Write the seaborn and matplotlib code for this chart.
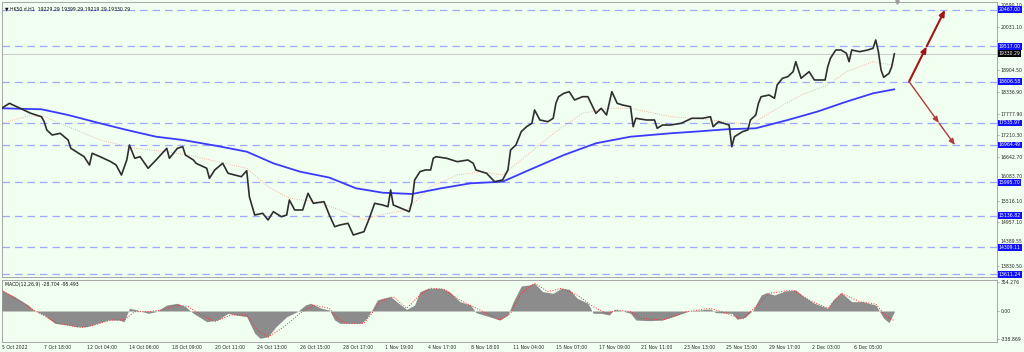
import numpy as np
import pandas as pd
import matplotlib
matplotlib.use("Agg")
import matplotlib.pyplot as plt
import seaborn as sns

# ---------------- data ----------------
title_text = "\u25BC HK50.d,H1  19229.29 19399.29 19219.29 19330.29"
macd_text = "MACD(12,26,9) -28.704 -95.493"

price_bar = [0, 3, 7, 11, 15, 16, 17, 19, 22, 25, 26, 28, 31, 33, 34, 37, 41, 43, 45, 47,
             48, 50, 52, 55, 58, 62, 63, 66, 68, 69, 72, 73, 77, 78, 80, 83, 85, 90, 92, 93,
             95, 98, 100, 102, 105, 107, 108, 110, 113, 115, 117, 121, 123, 125, 127, 130, 132, 136, 138, 140,
             143, 145, 146, 147, 150, 153, 154, 155, 157, 159, 161, 162, 163, 167, 171, 175, 177, 178, 182, 185,
             188, 190, 191, 193, 195, 197, 199, 200, 202, 205, 207, 208, 209, 211, 213, 215, 218, 220, 223, 225,
             227, 229, 231, 233, 236, 237, 238, 242, 245, 246, 248, 251, 255, 259, 263, 266, 267, 269, 273, 274,
             275, 278, 280, 281, 283, 284, 285, 288, 290, 291, 293, 295, 297, 298, 299, 300, 303, 305, 309, 310,
             311, 313, 315, 317, 318, 319, 322, 325, 327, 328, 329, 330, 331, 333, 334, 335]
price_close = [17915, 18044, 17915, 17785, 17697, 17568, 17353, 17223, 17267, 17094, 16879, 16791, 16661, 16446, 16749, 16661, 16532, 16446, 16187, 16576,
               16964, 16620, 16661, 16361, 16576, 16879, 16620, 16879, 16920, 16705, 16576, 16490, 16361, 16102, 16317, 16490, 16231, 16143, 16299, 15625,
               15151, 15195, 15022, 15237, 15107, 15151, 15540, 15281, 15281, 15713, 15454, 15496, 15151, 14848, 14892, 14936, 14633, 14719, 15066, 15454,
               15410, 15366, 15799, 15410, 15325, 15237, 15496, 16058, 16273, 16317, 16317, 16620, 16661, 16620, 16532, 16576, 16490, 16317, 16231, 16014,
               16058, 16317, 16835, 16964, 17309, 17438, 17526, 17871, 17612, 17568, 17656, 18044, 18215, 18303, 18345, 18130, 18215, 18215, 17785, 17915,
               17741, 18345, 18044, 18000, 17956, 17438, 17656, 17612, 17612, 17397, 17482, 17482, 17526, 17656, 17656, 17697, 17438, 17568, 17482, 16920,
               17179, 17309, 17353, 17612, 17741, 18044, 18215, 18259, 18174, 18518, 18692, 18733, 18863, 19122, 18907, 18692, 18863, 18648, 18648, 18992,
               19210, 19425, 19425, 19339, 19122, 19425, 19381, 19425, 19469, 19684, 19381, 18907, 18718, 18821, 18992, 19330.29]

ma_slow_bar = [0, 15, 25, 37, 47, 58, 68, 81, 92, 102, 112, 123, 133, 143, 154, 165, 176, 188, 198, 211,
               223, 236, 251, 260, 272, 283, 295, 306, 317, 327, 335]
ma_slow = [17915, 17889, 17741, 17526, 17353, 17179, 17094, 16938, 16791, 16490, 16273, 16120, 15843, 15729, 15695, 15843, 15972, 16014, 16317, 16705,
           17008, 17179, 17267, 17309, 17371, 17397, 17612, 17827, 18086, 18303, 18407]

ma_fast_bar = [0, 10, 16, 25, 37, 50, 62, 70, 81, 92, 100, 108, 118, 127, 136, 142, 152, 161, 171, 180,
               188, 198, 208, 218, 228, 236, 251, 260, 272, 281, 290, 300, 310, 317, 327, 330, 335]
ma_fast = [17526, 17715, 17697, 17438, 17094, 16879, 16791, 16705, 16532, 16361, 15884, 15584, 15496, 15280, 15022, 15151, 15281, 15884, 16187, 16273,
           16187, 16749, 17309, 17785, 17915, 17915, 17697, 17656, 17568, 17482, 17871, 18259, 18518, 18863, 19122, 19080, 19035]

hist_bar = [0, 5, 10, 12, 16, 20, 25, 28, 32, 36, 40, 44, 46, 48, 51, 55, 58, 62, 66, 69,
            72, 77, 81, 85, 88, 92, 95, 97, 100, 103, 107, 111, 114, 116, 120, 123, 125, 127, 131, 135,
            137, 139, 141, 143, 146, 149, 152, 155, 157, 160, 165, 168, 172, 176, 178, 183, 187, 190, 192, 195,
            198, 200, 203, 207, 210, 213, 216, 220, 222, 225, 228, 230, 233, 236, 238, 243, 248, 252, 258, 266,
            268, 274, 276, 279, 282, 285, 287, 290, 294, 298, 301, 305, 310, 312, 315, 319, 323, 328, 331, 333, 335]
hist_val = [256, 175, 73, 12, -49, -150, -171, -191, -191, -150, -110, -110, -130, 33, 12, -28, -8, 73, 94, 53,
            -28, -130, -110, -28, -49, -69, -272, -333, -313, -191, -69, -8, 73, 94, 33, 12, -110, -150, -150, -150,
            -89, 12, 134, 155, 175, 94, 20, 73, 236, 277, 277, 236, 114, 73, -20, -69, -110, -49, 114, 305,
            317, 338, 236, 216, 277, 265, 155, 94, -28, -28, -49, 20, 0, -28, -110, -118, -110, -69, 0, 24,
            -20, -28, -101, -77, 12, 195, 224, 195, 244, 256, 175, 94, 33, 134, 224, 114, 114, 73, -89, -142, -8]

sig_bar = [0, 12, 21, 30, 35, 41, 46, 50, 55, 60, 66, 70, 75, 80, 86, 92, 96, 100, 106, 112,
           117, 123, 126, 129, 136, 139, 142, 147, 152, 157, 161, 166, 172, 177, 182, 187, 191, 195, 200, 205,
           210, 216, 222, 227, 231, 236, 240, 248, 257, 266, 272, 278, 283, 288, 297, 303, 310, 315, 322, 328,
           332, 335]
sig_val = [256, 12, -150, -203, -171, -110, -110, -8, -8, 12, 73, 53, -49, -130, -49, -49, -232, -320, -191, -28,
           73, 33, -89, -150, -150, -28, 114, 175, 33, 195, 277, 265, 134, 53, -28, -110, -28, 216, 338, 236,
           277, 195, 53, -28, 12, -8, -89, -110, -8, 33, -28, -101, 53, 216, 256, 134, 33, 216, 114, 85,
           -69, -118]

levels = [20467.00, 19517.00, 18606.58, 17535.97, 16964.49, 15995.70, 15136.82, 14309.11, 13611.24]
level_labels = ["20467.00", "19517.00", "18606.58", "17535.97", "16964.49", "15995.70", "15136.82", "14309.11", "13611.24"]
last_price = 19330.29
last_label = "19330.29"

price_ticks = [20590.10, 20031.10, 18904.50, 18336.90, 17777.90, 17210.30, 16642.70, 16083.70, 15516.10, 14957.10, 14389.55, 13830.50]
price_tick_labels = ["20590.10", "20031.10", "18904.50", "18336.90", "17777.90", "17210.30", "16642.70", "16083.70", "15516.10", "14957.10", "14389.55", "13830.50"]
macd_ticks = [354.276, 0.0, -338.869]
macd_tick_labels = ["354.276", "0.00", "-338.869"]

date_labels = ["5 Oct 2022", "7 Oct 18:00", "12 Oct 04:00", "14 Oct 06:00", "18 Oct 09:00", "20 Oct 11:00",
               "24 Oct 13:00", "26 Oct 15:00", "28 Oct 17:00", "1 Nov 19:00", "4 Nov 17:00", "8 Nov 18:00",
               "11 Nov 04:00", "15 Nov 07:00", "17 Nov 09:00", "21 Nov 11:00", "23 Nov 13:00", "25 Nov 15:00",
               "29 Nov 17:00", "2 Dec 03:00", "6 Dec 05:00"]
bars_per_label = 16

# arrow scenario: start (bar, price), via level, end level
arrow_start = (340.5, 18606.58)
arrow_up_mid = (347.1, 19517.00)
arrow_up_end = (354.0, 20467.00)
arrow_dn_mid = (351.7, 17535.97)
arrow_dn_end = (357.7, 16964.49)

# ---------------- style ----------------
BG = "#f0fff0"
sns.set_style("white", rc={"axes.facecolor": BG, "figure.facecolor": BG})
plt.rcParams["font.family"] = ["DejaVu Sans"]

fig = plt.figure(figsize=(10.24, 3.52), dpi=100)
fig.patch.set_facecolor(BG)
L = 1.5 / 1024
W = (997 - 1.5) / 1024
ax = fig.add_axes([L, 75 / 352, W, 275 / 352])
axm = fig.add_axes([L, 10 / 352, W, 62 / 352])

XMAX = 373.5
for a in (ax, axm):
    a.set_facecolor(BG)
    a.set_xlim(0, XMAX)
    for s in a.spines.values():
        s.set_color("#9a9a9a")
        s.set_linewidth(0.6)

# ---------------- main panel ----------------
ax.set_ylim(13545, 20668)
for lv in levels:
    ax.axhline(lv, color="#9ea8ff", lw=0.9, ls=(0, (6, 4)), zorder=1)
ax.axhline(last_price, color="#c4c4c4", lw=0.6, zorder=1)

sns.lineplot(x=ma_fast_bar, y=ma_fast, ax=ax, color="#f2a48c", lw=0.6, ls=":", estimator=None, zorder=2)
sns.lineplot(x=ma_slow_bar, y=ma_slow, ax=ax, color="#3b3bff", lw=1.3, estimator=None, zorder=3)
sns.lineplot(x=price_bar, y=price_close, ax=ax, color="#2e2e2e", lw=1.2, estimator=None, zorder=4)

def arrow(p0, p1, color, lw):
    ax.annotate("", xy=p1, xytext=p0,
                arrowprops=dict(arrowstyle="-|>,head_length=0.35,head_width=0.15",
                                color=color, lw=lw, shrinkA=0, shrinkB=0), zorder=5)

arrow(arrow_start, arrow_up_mid, "#a31515", 1.5)
arrow(arrow_up_mid, arrow_up_end, "#a31515", 1.5)
arrow(arrow_start, arrow_dn_mid, "#b23a3a", 1.0)
arrow(arrow_dn_mid, arrow_dn_end, "#b23a3a", 1.0)

ax.yaxis.tick_right()
ax.set_yticks(price_ticks)
ax.set_yticklabels(price_tick_labels)
ax.tick_params(axis="y", labelsize=3.3, length=1.5, width=0.4, color="#777777", pad=1)
# tick labels that sit right next to a level box are lifted above it
for tl, val in zip(ax.get_yticklabels(), price_ticks):
    if min(abs(val - lv) for lv in levels) < 120:
        tl.set_verticalalignment("bottom")
ax.set_xticks([])
ax.set_xlabel("")
ax.set_ylabel("")

for lv, lab in zip(levels, level_labels):
    ax.annotate(lab, xy=(1.0, lv), xycoords=("axes fraction", "data"),
                xytext=(1.2, 0), textcoords="offset points", va="center", ha="left",
                fontsize=3.3, color="white", annotation_clip=False,
                bbox=dict(boxstyle="square,pad=0.2", fc="#1010ff", ec="none"))
ax.annotate(last_label, xy=(1.0, last_price), xycoords=("axes fraction", "data"),
            xytext=(1.2, 0), textcoords="offset points", va="center", ha="left",
            fontsize=3.3, color="white", annotation_clip=False,
            bbox=dict(boxstyle="square,pad=0.2", fc="#000000", ec="none"))

ax.text(0.004, 0.985, title_text, transform=ax.transAxes, fontsize=3.3, va="top", ha="left", color="#111111")
ax.plot([price_bar[-1] + 1], [1.0], marker="v", ms=2.5, color="#9a9a9a",
        transform=ax.get_xaxis_transform(), clip_on=False)

# ---------------- MACD panel ----------------
axm.set_ylim(-378, 378)
axm.fill_between(hist_bar, hist_val, 0, color="#8c8c8c", lw=0, zorder=2)
sns.lineplot(x=sig_bar, y=sig_val, ax=axm, color="#ff2a2a", lw=0.7, ls=":", estimator=None, zorder=3)
axm.yaxis.tick_right()
axm.set_yticks(macd_ticks)
axm.set_yticklabels(macd_tick_labels)
axm.tick_params(axis="y", labelsize=3.3, length=1.5, width=0.4, color="#777777", pad=1)
axm.set_xticks([i * bars_per_label for i in range(len(date_labels))])
axm.set_xticklabels(date_labels, ha="left")
axm.tick_params(axis="x", labelsize=3.3, length=1.5, width=0.4, color="#777777", pad=1)
axm.set_xlabel("")
axm.set_ylabel("")
axm.text(0.004, 0.96, macd_text, transform=axm.transAxes, fontsize=3.3, va="top", ha="left", color="#111111")

fig.savefig("out.png", dpi=100, facecolor=BG)
